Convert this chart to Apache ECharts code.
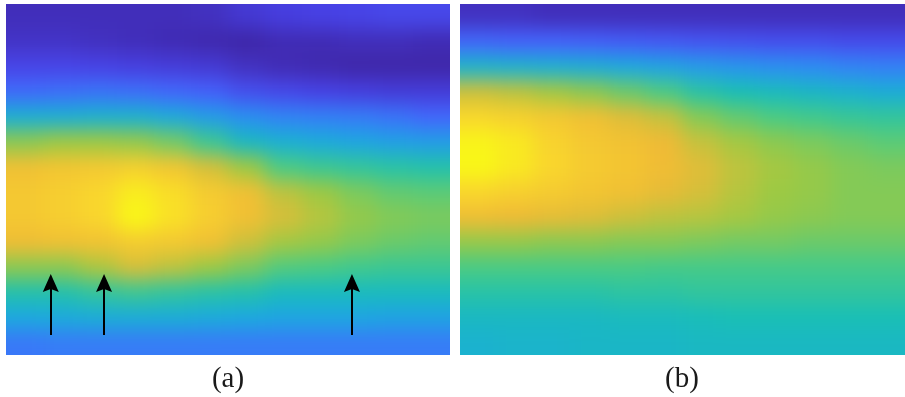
<!DOCTYPE html>
<html>
<head>
<meta charset="utf-8">
<script src="https://cdn.jsdelivr.net/npm/echarts@6/dist/echarts.min.js"></script>
<style>
  html, body { margin: 0; padding: 0; background: #fff; }
  body { position: relative; width: 905px; height: 397px; overflow: hidden; }
  .clip { position: absolute; overflow: hidden; }
  #clipA { left: 6px; top: 4px; width: 444px; height: 351px; }
  #clipB { left: 460px; top: 4px; width: 445px; height: 351px; }
  .heat { position: absolute; left: -40px; top: -40px; right: -40px; bottom: -40px; filter: blur(10px); }
  #overlay { position: absolute; left: 0; top: 0; width: 905px; height: 397px; }
</style>
</head>
<body>
<div class="clip" id="clipA"><div class="heat" id="heatA"></div></div>
<div class="clip" id="clipB"><div class="heat" id="heatB"></div></div>
<div id="overlay"></div>
<script>
// 面板 (a)：每行从上到下，每列从左到右（parula 归一化值 0~1）
const heatA = [
  [0.03, 0.03, 0.03, 0.03, 0.03, 0.04, 0.07, 0.09, 0.10, 0.11, 0.12, 0.12],
  [0.05, 0.05, 0.04, 0.03, 0.02, 0.01, 0.00, 0.02, 0.02, 0.03, 0.03, 0.02],
  [0.11, 0.11, 0.10, 0.09, 0.08, 0.07, 0.04, 0.02, 0.01, 0.00, 0.00, 0.00],
  [0.22, 0.23, 0.24, 0.23, 0.21, 0.19, 0.14, 0.12, 0.10, 0.09, 0.08, 0.08],
  [0.43, 0.43, 0.44, 0.44, 0.41, 0.36, 0.31, 0.28, 0.27, 0.26, 0.24, 0.21],
  [0.68, 0.70, 0.70, 0.69, 0.65, 0.57, 0.47, 0.43, 0.41, 0.39, 0.37, 0.36],
  [0.82, 0.84, 0.85, 0.87, 0.84, 0.77, 0.70, 0.60, 0.57, 0.55, 0.53, 0.52],
  [0.85, 0.87, 0.90, 0.96, 0.92, 0.86, 0.82, 0.74, 0.70, 0.66, 0.63, 0.62],
  [0.85, 0.87, 0.90, 0.99, 0.93, 0.87, 0.82, 0.77, 0.73, 0.69, 0.67, 0.66],
  [0.81, 0.82, 0.83, 0.86, 0.85, 0.82, 0.76, 0.71, 0.69, 0.66, 0.64, 0.63],
  [0.68, 0.68, 0.72, 0.77, 0.74, 0.70, 0.66, 0.61, 0.60, 0.58, 0.57, 0.57],
  [0.52, 0.52, 0.55, 0.57, 0.55, 0.53, 0.52, 0.48, 0.48, 0.48, 0.48, 0.48],
  [0.40, 0.41, 0.42, 0.42, 0.42, 0.41, 0.40, 0.39, 0.39, 0.39, 0.38, 0.38],
  [0.25, 0.26, 0.26, 0.26, 0.26, 0.26, 0.26, 0.26, 0.26, 0.26, 0.26, 0.26]
]
// 面板 (b)
const heatB = [
  [0.04, 0.04, 0.03, 0.03, 0.03, 0.03, 0.03, 0.03, 0.03, 0.03, 0.03, 0.03],
  [0.21, 0.20, 0.20, 0.19, 0.18, 0.17, 0.16, 0.15, 0.14, 0.14, 0.13, 0.13],
  [0.45, 0.44, 0.43, 0.42, 0.40, 0.38, 0.35, 0.33, 0.31, 0.30, 0.28, 0.27],
  [0.76, 0.74, 0.71, 0.68, 0.64, 0.60, 0.53, 0.50, 0.48, 0.46, 0.44, 0.42],
  [0.90, 0.88, 0.85, 0.82, 0.78, 0.75, 0.67, 0.63, 0.60, 0.58, 0.56, 0.55],
  [0.98, 0.95, 0.89, 0.85, 0.83, 0.80, 0.75, 0.71, 0.68, 0.66, 0.64, 0.62],
  [0.99, 0.95, 0.90, 0.86, 0.84, 0.81, 0.78, 0.74, 0.71, 0.69, 0.67, 0.66],
  [0.90, 0.88, 0.86, 0.84, 0.82, 0.79, 0.77, 0.73, 0.70, 0.69, 0.67, 0.67],
  [0.81, 0.80, 0.79, 0.78, 0.76, 0.74, 0.73, 0.71, 0.69, 0.68, 0.67, 0.67],
  [0.69, 0.69, 0.68, 0.68, 0.67, 0.67, 0.66, 0.65, 0.65, 0.64, 0.64, 0.64],
  [0.60, 0.60, 0.60, 0.60, 0.60, 0.59, 0.59, 0.59, 0.59, 0.59, 0.59, 0.59],
  [0.53, 0.53, 0.53, 0.53, 0.54, 0.54, 0.55, 0.55, 0.55, 0.55, 0.55, 0.55],
  [0.47, 0.47, 0.47, 0.47, 0.48, 0.48, 0.49, 0.50, 0.50, 0.50, 0.50, 0.50],
  [0.44, 0.45, 0.45, 0.46, 0.46, 0.46, 0.47, 0.47, 0.47, 0.47, 0.47, 0.47]
]
// 箭头所在列位置（面板 a 的格子坐标），起点 / 终点行
const arrowCols = [1.21, 2.65, 9.35]
const arrowSpan = [13.2, 11.13]
const panelLabels = ['(a)', '(b)']
const parula = ['#3e26a8', '#4741e5', '#4563fd', '#2d8cf3', '#1ca9df', '#19bfb6', '#4acb84', '#9dc943', '#efba36', '#f9d62d', '#f9fb15']

const ROWS = heatA.length
const COLS = heatA[0].length
const PAD = 40

const toCells = (grid) => {
  const out = []
  grid.forEach((row, j) => row.forEach((v, i) => out.push([i, j, v])))
  return out
}

// 边缘格子向外延伸，避免模糊后边缘发白
const renderCell = (params, api) => {
  const i = api.value(0)
  const j = api.value(1)
  const p0 = api.coord([i, j])
  const p1 = api.coord([i + 1, j + 1])
  let x0 = Math.min(p0[0], p1[0])
  let x1 = Math.max(p0[0], p1[0])
  let y0 = Math.min(p0[1], p1[1])
  let y1 = Math.max(p0[1], p1[1])
  if (i === 0) x0 -= PAD
  if (i === COLS - 1) x1 += PAD
  if (j === 0) y0 -= PAD
  if (j === ROWS - 1) y1 += PAD
  return {
    type: 'rect',
    shape: { x: x0, y: y0, width: x1 - x0 + 0.6, height: y1 - y0 + 0.6 },
    style: { fill: api.visual('color') }
  }
}

const heatOption = (grid) => ({
  animation: false,
  grid: { left: PAD, right: PAD, top: PAD, bottom: PAD },
  xAxis: { type: 'value', min: 0, max: COLS, show: false },
  yAxis: { type: 'value', min: 0, max: ROWS, inverse: true, show: false },
  visualMap: {
    type: 'continuous',
    show: false,
    min: 0,
    max: 1,
    dimension: 2,
    seriesIndex: 0,
    inRange: { color: parula }
  },
  series: [
    {
      type: 'custom',
      renderItem: renderCell,
      encode: { x: 0, y: 1 },
      data: toCells(grid)
    }
  ]
})

const initHeat = (id, grid) => {
  const dom = document.getElementById(id)
  echarts.dispose(dom)
  const chart = echarts.init(dom, null, { renderer: 'canvas' })
  chart.setOption(heatOption(grid))
}

initHeat('heatA', heatA)
initHeat('heatB', heatB)

// 叠加层：箭头和 (a)/(b) 标注
const overlay = echarts.init(document.getElementById('overlay'), null, { renderer: 'canvas' })
const labelStyle = { fontFamily: '"Liberation Serif", serif', fontSize: 29, fontWeight: 'normal', color: '#1a1a1a' }
overlay.setOption({
  animation: false,
  title: [
    { text: panelLabels[0], left: 228, top: 365, padding: 0, textAlign: 'center', textStyle: labelStyle },
    { text: panelLabels[1], left: 682, top: 365, padding: 0, textAlign: 'center', textStyle: labelStyle }
  ],
  grid: { left: 6, top: 4, width: 444, height: 351 },
  xAxis: { type: 'value', min: 0, max: COLS, show: false },
  yAxis: { type: 'value', min: 0, max: ROWS, inverse: true, show: false },
  series: [
    {
      type: 'lines',
      coordinateSystem: 'cartesian2d',
      symbol: ['none', 'path://M0,0L6.5,18L0,15L-6.5,18Z'],
      symbolSize: [10, [16, 18]],
      lineStyle: { color: '#000', width: 2, opacity: 1 },
      data: arrowCols.map((x) => ({ coords: [[x, arrowSpan[0]], [x, arrowSpan[1]]] }))
    }
  ]
})
</script>
</body>
</html>
